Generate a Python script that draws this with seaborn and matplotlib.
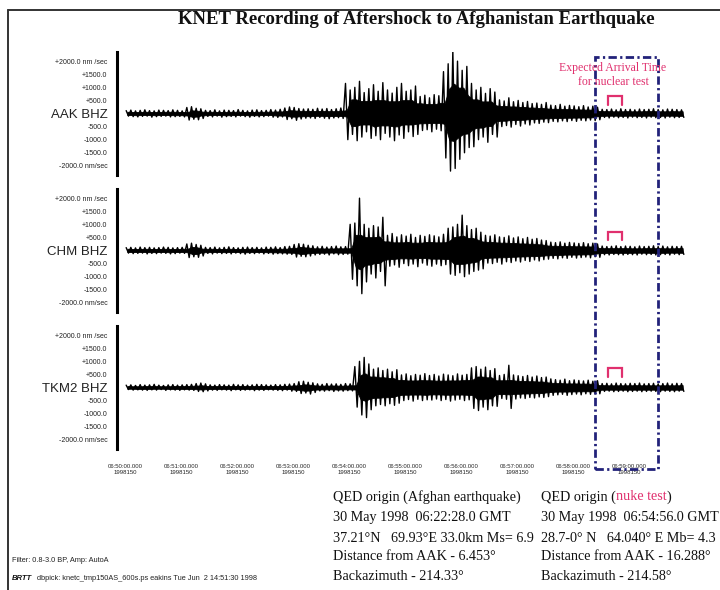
import numpy as np
import pandas as pd
import seaborn as sns
import matplotlib
matplotlib.use("Agg")
import matplotlib.pyplot as plt
from matplotlib import transforms
from matplotlib.lines import Line2D
from matplotlib.patches import Rectangle

# ---------------- data ----------------
title = "KNET Recording of Aftershock to Afghanistan Earthquake"
stations = ["AAK BHZ", "CHM BHZ", "TKM2 BHZ"]
bin_seconds = 5  # envelope values every 5 s over the 600 s record

aak_up = [110,130,100,120,140,110,100,130,120,110,140,120,100,
          230,260,200,180,
          120,110,140,100,130,120,110,150,120,100,130,140,110,120,150,130,160,
          210,250,230,190,170,
          180,160,200,170,190,150,180,210,
          1150,900,1000,1230,800,950,1100,850,1180,900,780,1000,1150,850,900,1050,
          650,700,600,720,680,
          1600,1900,2400,2000,1650,1800,
          1150,900,1000,770,950,820,
          520,480,600,450,500,420,460,380,400,350,420,
          320,300,350,280,310,290,260,300,250,280,240,
          160,150,170,140,180,150,160,140,170,150,160,180,150,140,170,160,150,140]
aak_down = [100,120,130,110,100,140,120,110,100,130,120,110,130,
            250,220,240,190,
            110,130,100,140,120,110,130,100,120,140,110,130,120,100,140,150,130,
            230,200,260,210,180,
            170,190,150,180,200,170,160,190,
            1000,800,1040,900,700,950,850,1000,760,900,1040,820,950,700,880,800,
            650,620,700,600,660,
            1700,2200,2100,1750,1500,1300,
            1270,1000,900,1100,800,900,
            500,460,520,420,480,400,440,360,380,330,350,
            300,320,280,310,270,300,260,280,250,270,240,
            150,170,140,160,150,170,140,160,150,170,140,160,150,170,140,160,150,150]

chm_up = [110,120,100,130,110,120,100,110,130,120,100,110,120,
          250,280,230,200,
          120,110,130,100,120,140,110,100,120,130,110,120,100,130,120,140,110,150,160,
          230,260,240,200,180,
          140,160,130,150,170,140,150,
          1000,1050,2000,1000,850,950,900,1270,
          580,650,520,600,550,620,500,580,540,600,560,520,620,
          850,900,1000,1350,950,800,850,700,
          580,550,600,520,500,560,480,520,450,500,430,460,400,380,
          320,300,330,280,310,290,270,300,260,280,250,
          170,150,160,180,150,170,160,140,170,150,160,180,150,170,140,160,150,160]
chm_down = [100,120,110,100,130,110,120,100,110,130,120,100,110,
            270,240,260,210,
            110,130,100,120,110,130,100,120,140,110,120,100,130,110,140,120,130,140,150,
            250,220,240,210,170,
            150,140,170,130,160,150,140,
            1100,1350,1650,1200,900,1050,800,1350,
            600,550,640,500,580,520,620,480,560,600,520,580,540,
            900,950,850,1000,900,800,750,700,
            480,500,450,520,430,460,400,440,380,420,360,400,350,330,
            300,320,280,300,260,290,270,250,280,240,260,
            160,170,150,160,170,150,160,170,140,160,150,170,160,150,170,140,160,150]

tkm_up = [90,100,80,110,90,100,120,90,80,100,110,90,100,110,120,
          150,170,140,
          100,90,110,100,90,120,100,110,90,100,120,110,100,90,110,100,120,130,150,
          220,240,200,180,
          140,120,150,130,140,120,150,140,
          800,1000,1150,900,700,750,650,700,600,680,
          480,520,450,500,470,530,460,500,440,510,480,450,520,470,500,
          750,800,700,780,650,720,
          460,500,850,480,450,420,460,400,440,380,400,
          330,300,280,320,260,290,270,250,280,240,260,
          150,160,140,170,150,140,160,150,170,140,150,160,140,150,170,140,160,150]
tkm_down = [80,100,90,100,110,90,100,80,110,90,100,110,90,100,110,
            150,160,130,
            100,110,90,100,120,90,110,100,90,120,100,110,90,100,110,120,100,140,150,
            230,210,250,190,
            130,140,120,150,130,140,120,130,
            750,1050,1150,850,700,650,700,620,680,600,
            500,460,520,450,500,470,480,440,500,460,520,480,450,500,470,
            800,880,750,850,700,720,
            420,450,800,440,400,420,380,400,360,380,350,
            300,280,260,300,270,250,280,240,260,250,240,
            150,140,160,150,140,160,150,140,160,150,140,150,160,140,150,160,140,150]

trace_up = [aak_up, chm_up, tkm_up]
trace_down = [aak_down, chm_down, tkm_down]

amp_ticks = [2000, 1500, 1000, 500, 0, -500, -1000, -1500, -2000]
amp_labels_tail = ["+2000.0 nm /sec", "+1500.0", "+1000.0", "+500.0", None,
                   "-500.0", "-1000.0", "-1500.0", "-2000.0 nm/sec"]

time_ticks = [0, 60, 120, 180, 240, 300, 360, 420, 480, 540]
time_labels = ["06:50:00.000", "06:51:00.000", "06:52:00.000", "06:53:00.000",
               "06:54:00.000", "06:55:00.000", "06:56:00.000", "06:57:00.000",
               "06:58:00.000", "06:59:00.000"]
day_label = "1998150"

window = [504, 571]          # expected arrival window (s)
bracket = [518, 532]         # red bracket (s)
bracket_lo = [340, 385, 420]
bracket_hi = [650, 690, 730]

left_col = ["QED origin (Afghan earthquake)",
            "30 May 1998  06:22:28.0 GMT",
            "37.21\u00b0N   69.93\u00b0E 33.0km Ms= 6.9",
            "Distance from AAK - 6.453\u00b0",
            "Backazimuth - 214.33\u00b0"]
right_col = ["QED origin (",
             "30 May 1998  06:54:56.0 GMT",
             "28.7-0\u00b0 N   64.040\u00b0 E Mb= 4.3",
             "Distance from AAK - 16.288\u00b0",
             "Backazimuth - 214.58\u00b0"]
nuke_word = "nuke test"

# ---------------- figure ----------------
sns.set_style("white")
plt.rcParams["font.family"] = ["Liberation Sans", "DejaVu Sans"]
W, H = 720, 590
fig = plt.figure(figsize=(W / 100, H / 100), dpi=100)
fig.patch.set_facecolor("white")

def fx(px):
    return px / W

def fy(py):
    return 1 - py / H

px_per_s = 560 / 600.0
x_left_px, x_right_px = 117, 690
xlim = ((x_left_px - 125) / px_per_s, (x_right_px - 125) / px_per_s)
ax_tops = [52, 189, 326]
ax_h = 123
navy = "#22227a"
red = "#e0306e"
core_share = 0.6  # how far the dense band of overlapping oscillations reaches

axes = []
for k in range(3):
    top = ax_tops[k]
    ax = fig.add_axes([fx(x_left_px), fy(top + ax_h), (x_right_px - x_left_px) / W, ax_h / H])
    up = pd.Series(trace_up[k], dtype=float)
    dn = pd.Series(trace_down[k], dtype=float)
    centers = bin_seconds * (np.arange(len(up)) + 0.5)
    core_up = up.rolling(3, center=True, min_periods=1).min() * core_share
    core_dn = dn.rolling(3, center=True, min_periods=1).min() * core_share
    ax.fill_between(centers, -core_dn, core_up, color="black", lw=0.6, edgecolor="black")
    # individual oscillation peaks
    t, v = [], []
    for i in range(len(up)):
        t += [bin_seconds * i + 1.25, bin_seconds * i + 3.75]
        v += [up[i], -dn[i]]
    df = pd.DataFrame({"t": t, "v": v})
    sns.lineplot(data=df, x="t", y="v", ax=ax, color="black", lw=1.0,
                 sort=False, estimator=None)
    ax.set_xlim(*xlim)
    ax.set_ylim(-2350, 2350)
    for s in ["top", "right", "bottom"]:
        ax.spines[s].set_visible(False)
    ax.spines["left"].set_linewidth(2.2)
    ax.spines["left"].set_color("black")
    labels = [lab if lab is not None else stations[k] for lab in amp_labels_tail]
    ax.set_yticks(amp_ticks, labels)
    ax.tick_params(axis="y", length=0, pad=7, labelsize=5)
    for lab, txt in zip(ax.get_yticklabels(), labels):
        if txt == stations[k]:
            lab.set_fontsize(9.5)
        lab.set_color("#222222")
    ax.set_xlabel("")
    ax.set_ylabel("")
    # red bracket
    ax.plot([bracket[0], bracket[0], bracket[1], bracket[1]],
            [bracket_lo[k], bracket_hi[k], bracket_hi[k], bracket_lo[k]],
            color=red, lw=1.6, solid_joinstyle="miter")
    if k < 2:
        ax.set_xticks([])
    else:
        ax.set_xticks(time_ticks, [f"{a}\n{day_label}" for a in time_labels])
        ax.tick_params(axis="x", length=0, pad=11, labelsize=4.3)
        for lab in ax.get_xticklabels():
            lab.set_linespacing(1.3)
    ax.patch.set_alpha(0)
    axes.append(ax)

# dash-dot window box
blend = transforms.blended_transform_factory(axes[0].transData, fig.transFigure)
rect = Rectangle((window[0], fy(469)), window[1] - window[0], fy(57) - fy(469),
                 transform=blend, fill=False, ec=navy, lw=2.0,
                 ls=(0, (3, 1.2, 0.8, 1.2)), clip_on=False)
fig.add_artist(rect)

# annotation text for nuclear test
fig.text(fx(613), fy(68), "Expected Arrival Time", ha="center", va="center",
         family="Liberation Serif", fontsize=8.5, color=red)
fig.text(fx(613), fy(82), "for nuclear test", ha="center", va="center",
         family="Liberation Serif", fontsize=8.5, color=red)

# title
fig.text(fx(416), fy(19), title, ha="center", va="center",
         family="Liberation Serif", fontweight="bold", fontsize=13.5, color="#111111")

# bottom text columns
line_y = [497, 518, 538, 557, 577]
for i in range(5):
    fig.text(fx(333), fy(line_y[i]), left_col[i], ha="left", va="center",
             family="Liberation Serif", fontsize=10.2, color="#111111")
fig.canvas.draw()
r = fig.canvas.get_renderer()
t0 = fig.text(fx(541), fy(line_y[0]), right_col[0], ha="left", va="center",
              family="Liberation Serif", fontsize=10.2, color="#111111")
bb = t0.get_window_extent(renderer=r)
t1 = fig.text(bb.x1 / W, fy(line_y[0]), nuke_word, ha="left", va="center",
              family="Liberation Serif", fontsize=10.2, color=red)
bb1 = t1.get_window_extent(renderer=r)
fig.text(bb1.x1 / W, fy(line_y[0]), ")", ha="left", va="center",
         family="Liberation Serif", fontsize=10.2, color="#111111")
for i in range(1, 5):
    fig.text(fx(541), fy(line_y[i]), right_col[i], ha="left", va="center",
             family="Liberation Serif", fontsize=10.2, color="#111111")

# small footer text
fig.text(fx(12), fy(561), "Filter: 0.8-3.0 BP, Amp: AutoA", ha="left", va="center",
         fontsize=5.3, color="#222222")
tb = fig.text(fx(12), fy(579), "BRTT", ha="left", va="center", fontsize=5.5,
              fontweight="bold", style="italic", color="#111111")
bbt = tb.get_window_extent(renderer=r)
fig.text(bbt.x1 / W + fx(5), fy(579),
         "dbpick: knetc_tmp150AS_600s.ps eakins Tue Jun  2 14:51:30 1998",
         ha="left", va="center", fontsize=5.3, color="#222222")

# outer frame
fig.add_artist(Line2D([fx(8), fx(8)], [fy(10), 0], color="#333333", lw=1.4))
fig.add_artist(Line2D([fx(8), 1], [fy(10), fy(10)], color="#333333", lw=1.4))

fig.savefig("out.png", dpi=100, facecolor="white")
